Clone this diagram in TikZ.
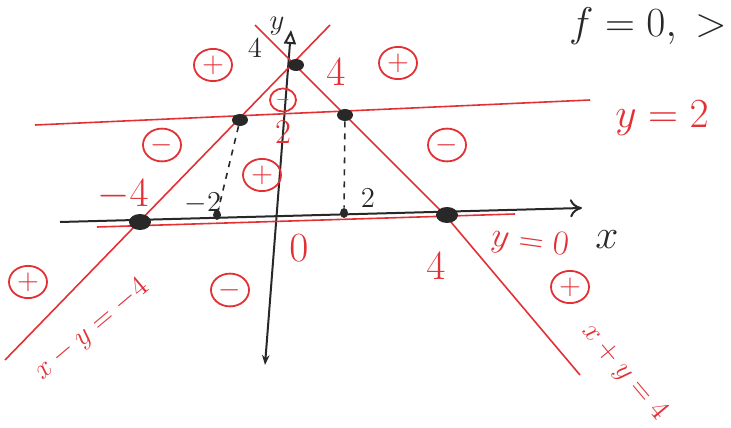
\documentclass[tikz,border=0pt]{standalone}
\usepackage{amsmath,amssymb}
\usetikzlibrary{shapes.geometric,arrows.meta}
\definecolor{pen}{RGB}{226,48,52}
\definecolor{ink}{RGB}{40,40,40}
\tikzset{
	redline/.style={pen, line width=0.8pt},
	signmark/.style={draw=pen, ellipse, line width=0.9pt, text=pen, inner sep=1pt, minimum width=19pt, minimum height=15pt, font=\Large},
	knot/.style={fill=ink, ellipse, minimum width=8pt, minimum height=6pt, inner sep=0pt}
}

\begin{document}
\begin{tikzpicture}[x=0.5pt, y=-0.5pt, every node/.style={font=\huge}]
	\useasboundingbox (0,0) rectangle (731,427);
	% axes
	\draw[ink, line width=1pt, -{To[length=6pt,width=9pt]}] (60,222) -- (582,208);
	\draw[ink, line width=1pt, {Stealth[length=5pt]}-{Triangle[open,length=7pt,width=6pt]}] (265,365) -- (291,30);
	\node[ink] (xlab) at (607,240) {$x$};
	\node[ink, font=\Large] (ylab) at (277,26) {$y$};
	\node[ink, font=\Large] (yfour) at (255,48) {$4$};
	% lines
	\draw[redline] (5,360) -- (330,25);
	\draw[redline] (255,25) -- (445,215) -- (580,375);
	\draw[redline] (35,125) -- (590,100);
	\draw[redline] (97,227) -- (515,214);
	% points
	\node[knot] (ptop) at (296,65) {};
	\node[knot] (pl) at (240,120) {};
	\node[knot] (pr) at (345,115) {};
	\node[knot, minimum width=11pt, minimum height=8pt] (pa) at (140,222) {};
	\node[knot, minimum width=11pt, minimum height=8pt] (pb) at (447,215) {};
	\node[knot, minimum width=4pt, minimum height=5pt] (qa) at (217,215) {};
	\node[knot, minimum width=4pt, minimum height=5pt] (qb) at (344,213) {};
	\draw[ink, dashed, line width=0.8pt] (pl) -- (qa);
	\draw[ink, dashed, line width=0.8pt] (pr) -- (qb);
	% labels
	\node[pen] (ltwo) at (662,118) {$y=2$};
	\node[pen, rotate=-8, font=\LARGE] (lzero) at (530,243) {$y=0$};
	\node[pen, rotate=-50, font=\Large] (lsum) at (624,372) {$x+y=4$};
	\node[pen, rotate=40, font=\Large] (ldiff) at (92,330) {$x-y=-4$};
	\node[pen] (mfour) at (123,195) {$-4$};
	\node[ink, font=\Large] (mtwo) at (203,203) {$-2$};
	\node[ink, font=\Large] (ptwo) at (368,198) {$2$};
	\node[pen, font=\LARGE] (rtwo) at (283,132) {$2$};
	\node[pen] (rzero) at (299,248) {$0$};
	\node[pen] (rfour) at (436,266) {$4$};
	\node[pen] (tfour) at (336,72) {$4$};
	\node[ink] (cond) at (648,26) {$f=0,\;>$};
	% signs
	\foreach \s/\x/\y in {+/213/65, +/398/63, -/162/145, +/262/175, -/447/145, +/28/282, -/230/290, +/570/287} {
		\node[signmark] (s\x) at (\x,\y) {$\s$};
	}
	\node[signmark, minimum width=12pt, minimum height=9pt, font=\small] (smid) at (283,100) {$-$};
\end{tikzpicture}
\end{document}
